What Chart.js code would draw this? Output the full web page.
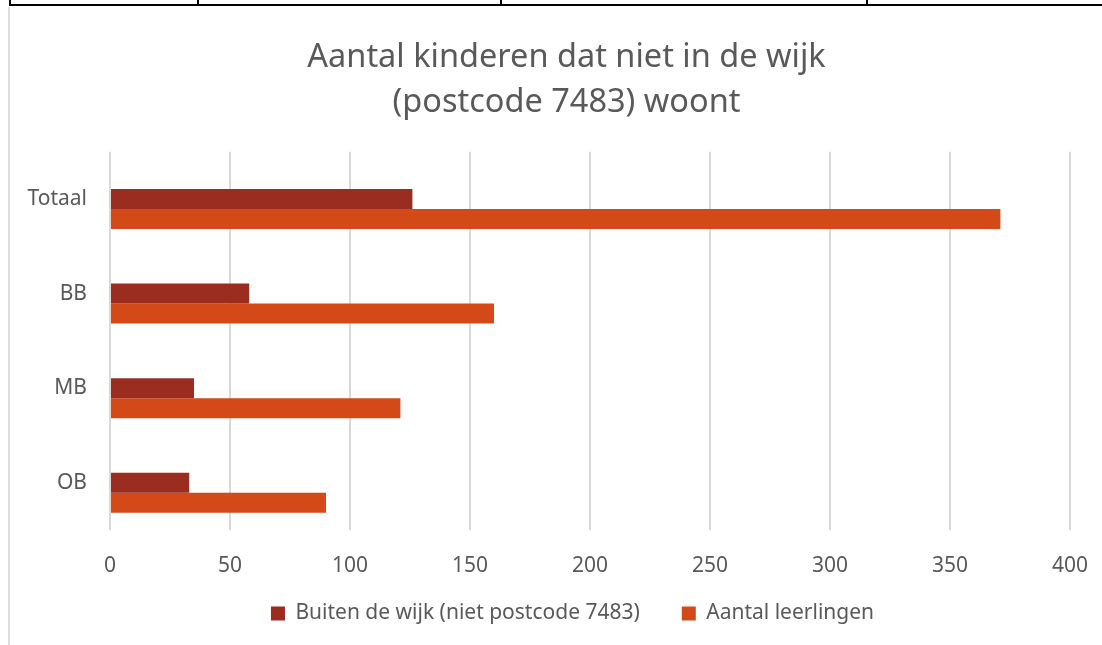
<!DOCTYPE html>
<html>
<head>
<meta charset="utf-8">
<script src="https://cdn.jsdelivr.net/npm/chart.js@4.4.1/dist/chart.umd.min.js"></script>
<style>
body {margin:0; background:#fff;}
#wrap {position:relative; width:1102px; height:645px; overflow:hidden;}
#canvas {position:absolute; left:0; top:0;}
.tline {position:absolute; background:#000;}
</style>
</head>
<body>
<div id="wrap">
  <!-- rest van de tabel boven de grafiek -->
  <div class="tline" style="left:9px;top:4px;width:1093px;height:2px;"></div>
  <div class="tline" style="left:9px;top:0;width:2px;height:6px;"></div>
  <div class="tline" style="left:197px;top:0;width:2px;height:6px;"></div>
  <div class="tline" style="left:500px;top:0;width:2px;height:6px;"></div>
  <div class="tline" style="left:866px;top:0;width:2px;height:6px;"></div>
  <div style="position:absolute;left:8px;top:7px;width:2px;height:640px;background:#dcdcdc;"></div>
  <!-- canvas iets breder dan het venster: rechts valt de labelruimte weg -->
  <canvas id="canvas" width="1111" height="645"></canvas>
</div>
<script>
var categories = ['Totaal', 'BB', 'MB', 'OB'];
var buitenWijk = [126, 58, 35, 33];
var aantalLeerlingen = [371, 160, 121, 90];
var xTicks = [0, 50, 100, 150, 200, 250, 300, 350, 400];
var titleLines = ['Aantal kinderen dat niet in de wijk', '(postcode 7483) woont'];
var seriesNames = ['Buiten de wijk (niet postcode 7483)', 'Aantal leerlingen'];

var FONT = "'Noto Sans', 'Open Sans', sans-serif";
var GREY = '#595959';

var ctx = document.getElementById('canvas').getContext('2d');
var chart = new Chart(ctx, {
  type: 'bar',
  data: {
    labels: categories,
    datasets: [
      // lege reeks, schuift de echte balken omlaag zoals in Excel
      {label: '_spacer', data: [], backgroundColor: 'rgba(0,0,0,0)'},
      {label: seriesNames[0], data: buitenWijk, backgroundColor: '#9b2d20', borderWidth: 0},
      {label: seriesNames[1], data: aantalLeerlingen, backgroundColor: '#d34a18', borderWidth: 0}
    ]
  },
  options: {
    indexAxis: 'y',
    responsive: false,
    animation: false,
    categoryPercentage: 0.635,
    barPercentage: 1,
    layout: {padding: {left: 22, right: 0, top: 0, bottom: 11}},
    plugins: {
      title: {
        display: true,
        text: titleLines,
        color: GREY,
        font: {family: FONT, size: 32.5, weight: 'normal', lineHeight: 1.38},
        padding: {top: 35, bottom: 27}
      },
      legend: {
        position: 'bottom',
        fullSize: false,
        labels: {
          color: GREY,
          font: {family: FONT, size: 21},
          boxWidth: 14,
          boxHeight: 14,
          padding: 28,
          generateLabels: function(c) {
            var items = Chart.defaults.plugins.legend.labels.generateLabels(c);
            items = items.filter(function(it) { return it.text !== '_spacer'; });
            // wat lucht achter de teksten zodat de items goed staan
            items[0].text = items[0].text + '\u2002\u2009';
            items[1].text = items[1].text + '\u2003\u2002\u2009';
            return items;
          }
        }
      },
      tooltip: {enabled: false}
    },
    scales: {
      x: {
        min: 0,
        max: 400,
        afterBuildTicks: function(axis) {
          axis.ticks = xTicks.map(function(v) { return {value: v}; });
        },
        afterFit: function(axis) { axis.height = 45; },
        grid: {color: '#d9d9d9', lineWidth: 2, drawTicks: false},
        border: {display: false},
        ticks: {color: GREY, font: {family: FONT, size: 21}, padding: 23}
      },
      y: {
        afterFit: function(axis) { axis.width = 88; },
        grid: {display: false, drawTicks: false},
        border: {display: false},
        ticks: {color: GREY, font: {family: FONT, size: 21}, padding: 23}
      }
    }
  }
});
</script>
</body>
</html>
